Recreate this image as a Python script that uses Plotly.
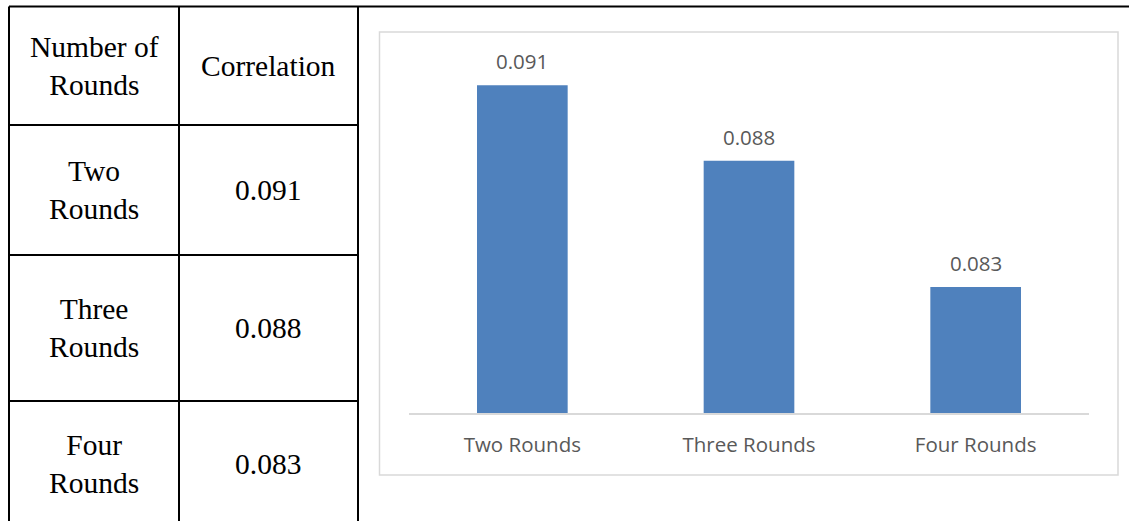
import plotly.graph_objects as go

categories = ["Two Rounds", "Three Rounds", "Four Rounds"]
correlations = [0.091, 0.088, 0.083]
table_header = ["Number of<br>Rounds", "Correlation"]
table_rounds = ["Two<br>Rounds", "Three<br>Rounds", "Four<br>Rounds"]
table_values = ["0.091", "0.088", "0.083"]

W, H = 1129, 521
def px(x):
    return x / W
def py(y):
    return 1 - y / H

fig = go.Figure()
fig.add_trace(go.Bar(
    x=categories, y=correlations,
    marker=dict(color="#4F81BD", line=dict(width=0)),
    width=0.4, hoverinfo="skip",
))

cfont = dict(family="Open Sans", size=20.5, color="#595959")
# value labels above bars
for c, v in zip(categories, correlations):
    fig.add_annotation(x=c, y=v, xref="x", yref="y", text=f"{v:.3f}",
                       showarrow=False, yshift=24, yanchor="middle", xanchor="center",
                       font=cfont)

shapes = []
# chart border
shapes.append(dict(type="rect", xref="paper", yref="paper",
                   x0=px(379.5), x1=px(1118), y0=py(32), y1=py(475),
                   line=dict(color="#D9D9D9", width=1.5), layer="below"))
# table lines
blk = dict(color="black", width=2)
shapes.append(dict(type="line", xref="paper", yref="paper", x0=px(9), x1=1.0, y0=py(6.5), y1=py(6.5), line=blk))
for yl in [125, 255, 401]:
    shapes.append(dict(type="line", xref="paper", yref="paper", x0=px(9), x1=px(358), y0=py(yl), y1=py(yl), line=blk))
for xl in [9, 179, 358]:
    shapes.append(dict(type="line", xref="paper", yref="paper", x0=px(xl), x1=px(xl), y0=py(6.5), y1=0, line=blk))

tfont = dict(family="Liberation Serif", size=29.5, color="black")
row_centers = [66, 190, 328, 464]
col_centers = [94, 268]

def cell(x, y, text):
    fig.add_annotation(x=px(x), y=py(y), xref="paper", yref="paper", text=text,
                       showarrow=False, font=tfont, align="center",
                       xanchor="center", yanchor="middle")

cell(col_centers[0], row_centers[0], table_header[0])
cell(col_centers[1], row_centers[0], table_header[1])
for i, (r, v) in enumerate(zip(table_rounds, table_values)):
    cell(col_centers[0], row_centers[i + 1], r)
    cell(col_centers[1], row_centers[i + 1], v)

fig.update_layout(
    width=W, height=H, margin=dict(l=0, r=0, t=0, b=0),
    paper_bgcolor="white", plot_bgcolor="white",
    shapes=shapes, showlegend=False,
    xaxis=dict(domain=[px(409), px(1089)], showline=True, linecolor="#D9D9D9", linewidth=1.5,
               ticks="", showgrid=False, zeroline=False, ticklabelstandoff=13,
               tickfont=cfont, fixedrange=True),
    yaxis=dict(domain=[py(413), py(60)], range=[0.078, 0.092], visible=False, fixedrange=True),
    bargap=0.6,
)
fig.write_html("out.html", config={"displayModeBar": False},
               post_script="document.body.style.margin='0';document.body.style.padding='0';")
